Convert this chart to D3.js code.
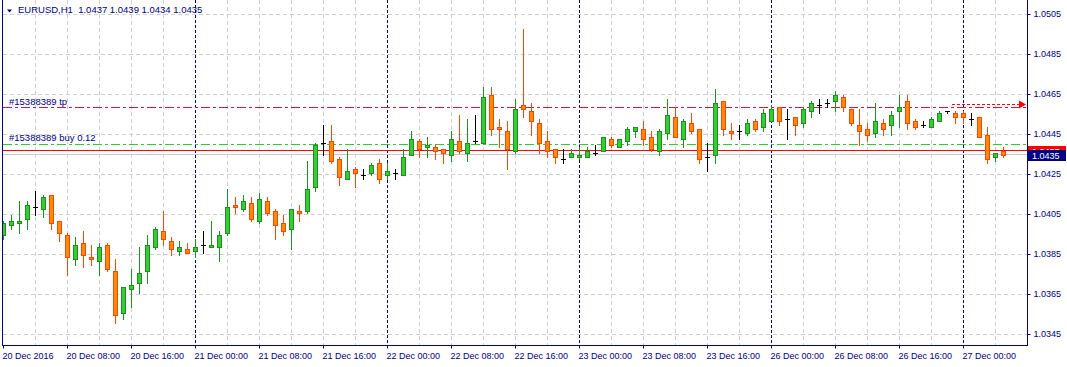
<!DOCTYPE html>
<html>
<head>
<meta charset="utf-8">
<script src="https://cdn.jsdelivr.net/npm/d3@7"></script>
<style>
  body { margin: 0; background: #fff; }
  svg text { font-family: "Liberation Sans", Arial, sans-serif; font-size: 9px; fill: #000080; }
  svg text.lbl { font-size: 9.5px; }
</style>
</head>
<body>
<svg id="chart" width="1067" height="367"></svg>
<script>
// EURUSD H1 bars, 20 Dec 2016 00:00 .. 27 Dec 2016 05:00
const opens = [1.0395,1.0400,1.0401,1.0403,1.0409,1.0408,1.0415,1.0402,1.0395,1.0383,1.0391,1.0384,1.0382,1.0390,1.0377,1.0356,1.0368,1.0371,1.0377,1.0389,1.0397,1.0392,1.0387,1.0388,1.0387,1.0390,1.0389,1.0389,1.0396,1.0410,1.0408,1.0411,1.0402,1.0412,1.0407,1.0401,1.0398,1.0407,1.0407,1.0419,1.0441,1.0442,1.0433,1.0423,1.0428,1.0425,1.0426,1.0431,1.0425,1.0426,1.0425,1.0435,1.0442,1.0439,1.0439,1.0438,1.0435,1.0442,1.0436,1.0442,1.0441,1.0465,1.0449,1.0447,1.0437,1.0460,1.0457,1.0451,1.0442,1.0438,1.0433,1.0434,1.0434,1.0434,1.0436,1.0437,1.0443,1.0439,1.0442,1.0447,1.0448,1.0444,1.0437,1.0446,1.0454,1.0443,1.0451,1.0448,1.0434,1.0435,1.0462,1.0447,1.0447,1.0446,1.0452,1.0449,1.0452,1.0459,1.0453,1.0454,1.0451,1.0457,1.0460,1.0461,1.0462,1.0464,1.0458,1.0450,1.0448,1.0446,1.0451,1.0450,1.0457,1.0462,1.0452,1.0450,1.0449,1.0452,1.0457,1.0456,1.0456,1.0453,1.0454,1.0445,1.0434,1.0437]
const highs = [1.0402,1.0405,1.0412,1.0412,1.0417,1.0415,1.0415,1.0402,1.0396,1.0394,1.0397,1.0390,1.0391,1.0391,1.0383,1.0369,1.0378,1.0389,1.0395,1.0399,1.0407,1.0394,1.0392,1.0391,1.0393,1.0397,1.0402,1.0397,1.0418,1.0414,1.0415,1.0414,1.0416,1.0414,1.0408,1.0405,1.0408,1.0410,1.0432,1.0441,1.0450,1.0450,1.0434,1.0438,1.0429,1.0428,1.0431,1.0433,1.0431,1.0428,1.0438,1.0447,1.0443,1.0444,1.0440,1.0438,1.0447,1.0455,1.0453,1.0455,1.0469,1.0469,1.0453,1.0452,1.0463,1.0498,1.0461,1.0453,1.0447,1.0438,1.0438,1.0438,1.0439,1.0439,1.0440,1.0444,1.0444,1.0443,1.0449,1.0449,1.0452,1.0447,1.0448,1.0463,1.0459,1.0453,1.0456,1.0448,1.0441,1.0468,1.0462,1.0451,1.0450,1.0453,1.0453,1.0458,1.0460,1.0459,1.0458,1.0454,1.0459,1.0462,1.0463,1.0463,1.0467,1.0465,1.0458,1.0458,1.0451,1.0461,1.0453,1.0457,1.0465,1.0465,1.0453,1.0452,1.0454,1.0457,1.0457,1.0457,1.0457,1.0456,1.0454,1.0449,1.0436,1.0439]
const lows = [1.0393,1.0398,1.0396,1.0398,1.0405,1.0404,1.0398,1.0392,1.0375,1.0380,1.0379,1.0380,1.0375,1.0377,1.0351,1.0353,1.0359,1.0366,1.0371,1.0388,1.0390,1.0385,1.0385,1.0386,1.0384,1.0386,1.0389,1.0382,1.0395,1.0406,1.0407,1.0402,1.0401,1.0405,1.0393,1.0395,1.0388,1.0402,1.0406,1.0417,1.0435,1.0431,1.0420,1.0423,1.0419,1.0423,1.0425,1.0421,1.0423,1.0423,1.0425,1.0435,1.0434,1.0434,1.0433,1.0431,1.0432,1.0436,1.0432,1.0441,1.0441,1.0445,1.0439,1.0428,1.0436,1.0454,1.0445,1.0436,1.0434,1.0431,1.0431,1.0434,1.0433,1.0434,1.0435,1.0437,1.0439,1.0439,1.0440,1.0444,1.0440,1.0437,1.0435,1.0443,1.0444,1.0439,1.0446,1.0431,1.0427,1.0431,1.0445,1.0443,1.0443,1.0445,1.0447,1.0447,1.0452,1.0450,1.0443,1.0445,1.0449,1.0454,1.0456,1.0459,1.0457,1.0457,1.0450,1.0440,1.0442,1.0444,1.0445,1.0445,1.0449,1.0448,1.0448,1.0449,1.0449,1.0452,1.0456,1.0451,1.0451,1.0450,1.0444,1.0431,1.0432,1.0434]
const closes = [1.0401,1.0402,1.0402,1.0410,1.0409,1.0414,1.0401,1.0396,1.0384,1.0390,1.0385,1.0383,1.0389,1.0378,1.0355,1.0369,1.0370,1.0376,1.0390,1.0398,1.0393,1.0388,1.0389,1.0386,1.0389,1.0390,1.0390,1.0395,1.0409,1.0409,1.0412,1.0403,1.0413,1.0406,1.0400,1.0397,1.0408,1.0406,1.0418,1.0440,1.0441,1.0432,1.0424,1.0427,1.0426,1.0425,1.0430,1.0423,1.0427,1.0426,1.0434,1.0443,1.0438,1.0440,1.0437,1.0436,1.0443,1.0437,1.0441,1.0442,1.0464,1.0448,1.0448,1.0438,1.0458,1.0458,1.0452,1.0441,1.0437,1.0434,1.0433,1.0436,1.0435,1.0437,1.0436,1.0444,1.0440,1.0443,1.0448,1.0449,1.0443,1.0438,1.0447,1.0455,1.0444,1.0452,1.0447,1.0433,1.0434,1.0461,1.0448,1.0446,1.0447,1.0451,1.0448,1.0456,1.0458,1.0452,1.0453,1.0450,1.0458,1.0461,1.0460,1.0461,1.0465,1.0459,1.0451,1.0447,1.0445,1.0452,1.0448,1.0455,1.0459,1.0451,1.0449,1.0450,1.0453,1.0456,1.0457,1.0454,1.0454,1.0453,1.0444,1.0433,1.0436,1.0435]

const timeLabels = ["20 Dec 2016","20 Dec 08:00","20 Dec 16:00","21 Dec 00:00","21 Dec 08:00","21 Dec 16:00","22 Dec 00:00","22 Dec 08:00","22 Dec 16:00","23 Dec 00:00","23 Dec 08:00","23 Dec 16:00","26 Dec 00:00","26 Dec 08:00","26 Dec 16:00","27 Dec 00:00"]
const labelBars = d3.range(0, 128, 8)
const gridBars = d3.range(4, 128, 4)
const dayBars = [24, 48, 72, 96, 120]
const priceTicks = [1.0505, 1.0485, 1.0465, 1.0445, 1.0425, 1.0405, 1.0385, 1.0365, 1.0345]

// order lines
const tpPrice = 1.04585
const openPrice = 1.0440
const askPrice = 1.0437
const bidPrice = 1.0435
const arrowPrice = 1.0460

const W = 1067, H = 367
const pLeft = 3, pRight = 1027, pTop = 0, pBottom = 345

const svg = d3.select('#chart')

const x = d3.scaleLinear().domain([0, 125]).range([3, 1003])
const y = d3.scaleLinear().domain([1.0345, 1.0505]).range([335, 15])
const py = p => Math.round(y(p)) - 0.5

svg.append('rect').attr('width', W).attr('height', H).attr('fill', '#fff')

svg.append('defs').append('clipPath').attr('id', 'plot')
  .append('rect').attr('x', pLeft).attr('y', pTop).attr('width', pRight - pLeft).attr('height', pBottom - pTop)

const plot = svg.append('g').attr('clip-path', 'url(#plot)').attr('shape-rendering', 'crispEdges')

// grid
plot.selectAll('.hgrid').data(priceTicks).join('line')
  .attr('x1', pLeft).attr('x2', pRight)
  .attr('y1', py).attr('y2', py)
  .attr('stroke', '#d0d0d0').attr('stroke-dasharray', '4,3')

plot.selectAll('.vgrid').data(gridBars.filter(b => !dayBars.includes(b))).join('line')
  .attr('x1', d => x(d) + 0.5).attr('x2', d => x(d) + 0.5)
  .attr('y1', pTop).attr('y2', pBottom)
  .attr('stroke', '#d0d0d0').attr('stroke-dasharray', '4,3')

plot.selectAll('.day').data(dayBars).join('line')
  .attr('x1', d => x(d) + 0.5).attr('x2', d => x(d) + 0.5)
  .attr('y1', pTop).attr('y2', pBottom)
  .attr('stroke', '#000080').attr('stroke-dasharray', '3,2')

// price lines
const hline = (p, color, dash, x1 = pLeft) => plot.append('line')
  .attr('x1', x1).attr('x2', pRight).attr('y1', py(p)).attr('y2', py(p))
  .attr('stroke', color).attr('stroke-dasharray', dash)

hline(bidPrice, '#c8c8c8', null)
hline(tpPrice, 'crimson', '9,3,3,3')
hline(openPrice, '#32cd32', '9,3,3,3')
hline(askPrice, '#ff0000', null)
hline(arrowPrice, '#ff0000', '3,2', 952).attr('x2', 1020)
plot.append('path')
  .attr('d', `M1019,${py(arrowPrice) - 4}L1026,${py(arrowPrice)}L1019,${py(arrowPrice) + 4}Z`)
  .attr('fill', '#ff0000').attr('shape-rendering', 'auto')

// candles
const bars = d3.range(opens.length).map(i => ({
  i, o: opens[i], h: highs[i], l: lows[i], c: closes[i]
}))
const up = '#32cd32', upLine = '#1f8f1f', dn = '#ff8c00', dnLine = '#ff4500'
const lineColor = d => d.c > d.o ? upLine : d.c < d.o ? dnLine : '#000'

plot.selectAll('.wick').data(bars).join('line')
  .attr('x1', d => x(d.i) + 0.5).attr('x2', d => x(d.i) + 0.5)
  .attr('y1', d => Math.round(y(d.h))).attr('y2', d => Math.round(y(d.l)) + 1)
  .attr('stroke', lineColor)

plot.selectAll('.body').data(bars.filter(d => d.o !== d.c)).join('rect')
  .attr('x', d => x(d.i) - 1.5)
  .attr('y', d => Math.round(y(Math.max(d.o, d.c))) + 0.5)
  .attr('width', 4)
  .attr('height', d => Math.max(1, Math.round(y(Math.min(d.o, d.c))) - Math.round(y(Math.max(d.o, d.c)))))
  .attr('fill', d => d.c > d.o ? up : dn)
  .attr('stroke', lineColor)

plot.selectAll('.doji').data(bars.filter(d => d.o === d.c)).join('line')
  .attr('x1', d => x(d.i) - 2).attr('x2', d => x(d.i) + 3)
  .attr('y1', d => Math.round(y(d.o)) + 0.5).attr('y2', d => Math.round(y(d.o)) + 0.5)
  .attr('stroke', '#000')

// frame
svg.append('line').attr('x1', pLeft - 0.5).attr('x2', pLeft - 0.5).attr('y1', 0).attr('y2', pBottom + 0.5)
  .attr('stroke', '#000080')

// axes
const yAxis = svg.append('g')
  .attr('transform', `translate(${pRight + 0.5},0)`)
  .call(d3.axisRight(y).tickValues(priceTicks).tickFormat(d3.format('.4f')).tickSize(3).tickPadding(3).tickSizeOuter(0))
yAxis.select('.domain').attr('stroke', '#000080').attr('d', `M0,0V${pBottom + 0.5}`)
yAxis.selectAll('.tick line').attr('stroke', '#000080')
yAxis.selectAll('.tick').attr('transform', d => `translate(0,${py(d)})`)
yAxis.selectAll('text').attr('font-family', null).attr('font-size', null).attr('fill', null)

const xAxis = svg.append('g')
  .attr('transform', `translate(0,${pBottom + 0.5})`)
  .call(d3.axisBottom(x).tickValues(labelBars).tickFormat((d, k) => timeLabels[k]).tickSize(3).tickSizeOuter(0))
xAxis.select('.domain').attr('stroke', '#000080').attr('d', `M${pLeft - 1},0H${pRight + 1}`)
xAxis.selectAll('.tick').attr('transform', d => `translate(${x(d) + 0.5},0)`)
xAxis.selectAll('.tick line').attr('stroke', '#000080')
xAxis.selectAll('text').attr('font-family', null).attr('font-size', null).attr('fill', null)
  .attr('text-anchor', 'start').attr('x', -1).attr('y', 7).attr('dy', '0.71em')

// current price labels (ask tag sits mostly under the bid tag, as in the terminal)
const tag = (p, color) => {
  const g = svg.append('g').attr('transform', `translate(${pRight + 1},${Math.round(y(p))})`)
  g.append('rect').attr('x', 0).attr('y', -5).attr('width', 38).attr('height', 11).attr('fill', color)
  g.append('text').attr('x', 4).attr('y', 4).style('fill', '#fff').text(d3.format('.4f')(p))
}
tag(askPrice, '#ff0000')
tag(bidPrice, '#000080')

// title and order labels
svg.append('path').attr('d', 'M7,9.5L12,9.5L9.5,12.5Z').attr('fill', '#000080')
svg.append('text').attr('class', 'lbl').attr('x', 18).attr('y', 13)
  .style('white-space', 'pre')
  .text(`EURUSD,H1  ${[opens[125], highs[125], lows[125], closes[125]].map(d3.format('.4f')).join(' ')}`)
svg.append('text').attr('class', 'lbl').attr('x', 9).attr('y', py(tpPrice) - 2.5).text('#15388389 tp')
svg.append('text').attr('class', 'lbl').attr('x', 9).attr('y', py(openPrice) - 3.5).text('#15388389 buy 0.12')
</script>
</body>
</html>
